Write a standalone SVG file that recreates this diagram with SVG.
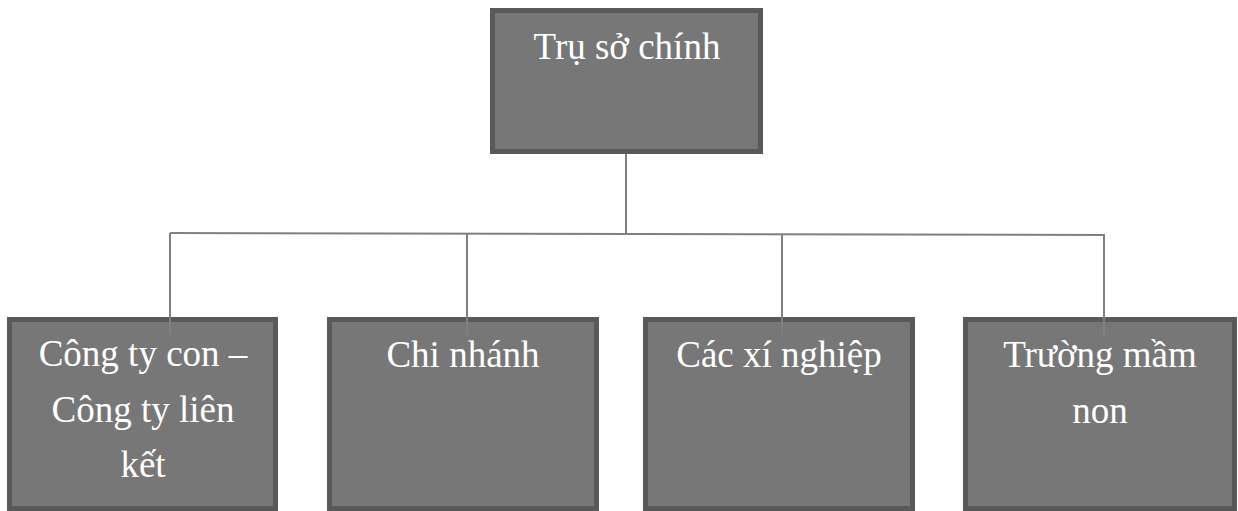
<svg xmlns="http://www.w3.org/2000/svg" width="1238" height="511" viewBox="0 0 1238 511">
<style>
.box{fill:#777777;stroke:#595959;stroke-width:5}
.lbl{font-family:"Liberation Serif","Times New Roman",serif;font-size:37px;fill:#ffffff;text-anchor:middle}
.con{stroke:#808080;stroke-width:2;fill:none}
</style>
<rect width="1238" height="511" fill="#ffffff"/>
<g id="node-top">
<rect class="box" x="492.5" y="10.5" width="268" height="141"/>
<text class="lbl" x="627" y="59">Trụ sở chính</text>
</g>
<g id="node-cty">
<rect class="box" x="9.5" y="319.5" width="266" height="189"/>
<text class="lbl" x="143" y="366">Công ty con –</text>
<text class="lbl" x="143" y="422">Công ty liên</text>
<text class="lbl" x="143" y="477">kết</text>
</g>
<g id="node-chinhanh">
<rect class="box" x="329.5" y="319.5" width="267" height="189"/>
<text class="lbl" x="463" y="367">Chi nhánh</text>
</g>
<g id="node-xinghiep">
<rect class="box" x="645.5" y="319.5" width="267" height="189"/>
<text class="lbl" x="779" y="367">Các xí nghiệp</text>
</g>
<g id="node-mamnon">
<rect class="box" x="965.5" y="319.5" width="269" height="189"/>
<text class="lbl" x="1100" y="367">Trường mầm</text>
<text class="lbl" x="1100" y="423">non</text>
</g>
<g id="connectors">
<line class="con" x1="626" y1="154" x2="626" y2="235"/>
<line class="con" x1="170" y1="233" x2="1105" y2="235"/>
<line class="con" x1="170" y1="233" x2="170" y2="334"/>
<line class="con" x1="467" y1="233" x2="467" y2="335"/>
<line class="con" x1="782" y1="234" x2="782" y2="335"/>
<line class="con" x1="1104" y1="235" x2="1104" y2="337"/>
</g>
</svg>
